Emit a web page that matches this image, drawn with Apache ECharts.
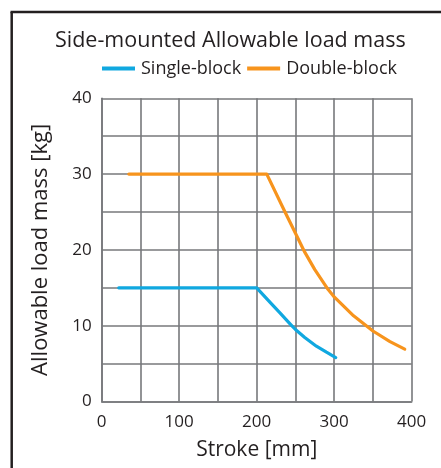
<!DOCTYPE html>
<html>
<head>
<meta charset="utf-8">
<script src="https://cdn.jsdelivr.net/npm/echarts@6/dist/echarts.min.js"></script>
<style>
  html, body { margin: 0; padding: 0; background: #fff; }
  #chart { width: 441px; height: 468px; }
</style>
</head>
<body>
<div id="chart"></div>
<script>
// Stroke [mm] / allowable load mass [kg] pairs for each carriage configuration
const singleStroke = [22, 200, 217, 230, 243, 250, 262, 277, 290, 302];
const singleMass   = [15, 15, 13.1, 11.7, 10.25, 9.5, 8.45, 7.3, 6.5, 5.8];

const doubleStroke = [35, 213, 237, 250, 262, 275, 292, 300, 325, 350, 372, 391];
const doubleMass   = [30, 30, 24.9, 22.2, 19.7, 17.4, 14.8, 13.8, 11.3, 9.3, 7.9, 6.9];

const seriesNames = ['Single-block', 'Double-block'];
const xTicks = [0, 100, 200, 300, 400];
const yTicks = [0, 10, 20, 30, 40];

const pairs = (xs, ys) => xs.map((x, i) => [x, ys[i]]);

const FONT = '"Open Sans", "Noto Sans", sans-serif';
const INK = '#231f20';
const GRID = '#77787b';

const chart = echarts.init(document.getElementById('chart'), null, { renderer: 'canvas' });

chart.setOption({
  animation: false,
  backgroundColor: '#fff',
  textStyle: { fontFamily: FONT, color: INK },
  title: {
    text: 'Side-mounted Allowable load mass',
    left: 55,
    top: 30,
    padding: 0,
    textStyle: { fontFamily: FONT, fontSize: 21.5, fontWeight: 'normal', color: INK }
  },
  legend: {
    left: 102,
    top: 59.5,
    padding: 0,
    itemGap: 6,
    itemWidth: 33,
    itemHeight: 4,
    icon: 'rect',
    data: seriesNames,
    textStyle: { fontFamily: FONT, fontSize: 18, color: INK, padding: [0, 0, 0, 1] }
  },
  grid: { left: 101.7, right: 29.3, top: 98.3, bottom: 66.5, containLabel: false },
  xAxis: {
    type: 'value',
    min: xTicks[0],
    max: xTicks[xTicks.length - 1],
    interval: xTicks[1] - xTicks[0],
    name: 'Stroke [mm]',
    nameLocation: 'middle',
    nameGap: 38,
    nameTextStyle: { fontFamily: FONT, fontSize: 21, color: INK },
    axisLine: { show: true, lineStyle: { color: GRID, width: 1.6 } },
    axisTick: { show: false },
    minorTick: { show: false, splitNumber: 2 },
    axisLabel: { fontFamily: FONT, fontSize: 17, color: INK, margin: 12 },
    splitLine: { show: true, lineStyle: { color: GRID, width: 1.6 } },
    minorSplitLine: { show: true, lineStyle: { color: GRID, width: 1.6 } }
  },
  yAxis: {
    type: 'value',
    min: yTicks[0],
    max: yTicks[yTicks.length - 1],
    interval: yTicks[1] - yTicks[0],
    name: 'Allowable load mass [kg]',
    nameLocation: 'middle',
    nameRotate: 90,
    nameGap: 50,
    nameTextStyle: { fontFamily: FONT, fontSize: 22, color: INK },
    axisLine: { show: true, lineStyle: { color: GRID, width: 1.6 } },
    axisTick: { show: false },
    minorTick: { show: false, splitNumber: 2 },
    axisLabel: { fontFamily: FONT, fontSize: 17, color: INK, margin: 10 },
    splitLine: { show: true, lineStyle: { color: GRID, width: 1.6 } },
    minorSplitLine: { show: true, lineStyle: { color: GRID, width: 1.6 } }
  },
  graphic: [
    // panel frame (top and left edges)
    { type: 'line', shape: { x1: 10.5, y1: 12, x2: 441, y2: 12 }, style: { stroke: INK, lineWidth: 2.5 }, z: 10 },
    { type: 'line', shape: { x1: 11.7, y1: 12, x2: 11.7, y2: 468 }, style: { stroke: INK, lineWidth: 2.5 }, z: 10 }
  ],
  series: [
    {
      name: seriesNames[0],
      type: 'line',
      data: pairs(singleStroke, singleMass),
      showSymbol: false,
      smooth: false,
      color: '#10a8e0',
      lineStyle: { width: 3.2, color: '#10a8e0', cap: 'round', join: 'round' },
      z: 5
    },
    {
      name: seriesNames[1],
      type: 'line',
      data: pairs(doubleStroke, doubleMass),
      showSymbol: false,
      smooth: false,
      color: '#f7941d',
      lineStyle: { width: 3.2, color: '#f7941d', cap: 'round', join: 'round' },
      z: 5
    }
  ]
});
</script>
</body>
</html>
